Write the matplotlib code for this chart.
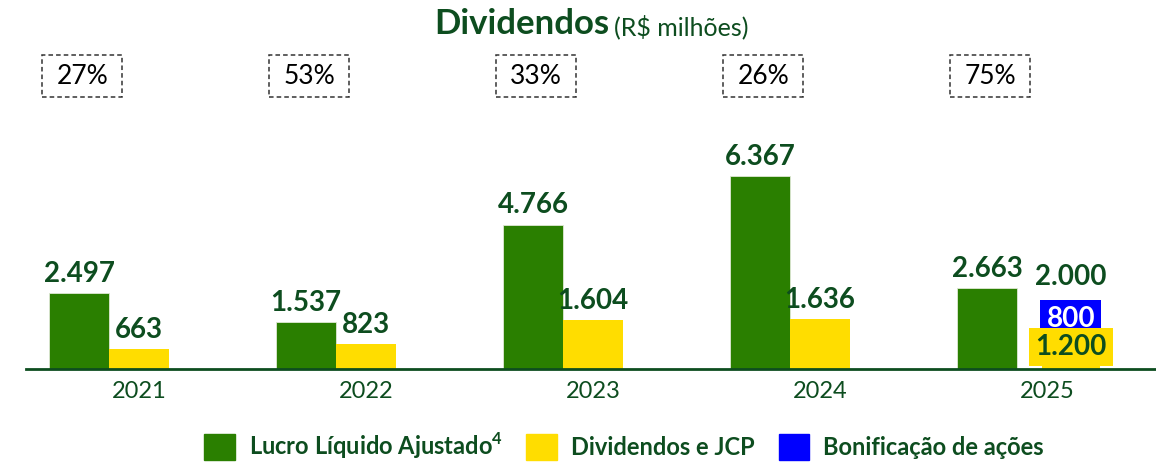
import matplotlib
matplotlib.use('Agg')
import matplotlib.pyplot as plt
import matplotlib.transforms as mtransforms
from matplotlib.patches import Patch, Rectangle
import numpy as np

plt.rcParams['font.family'] = ['Lato', 'DejaVu Sans']
plt.rcParams['mathtext.fontset'] = 'custom'
plt.rcParams['mathtext.rm'] = 'Lato'

# dados (R$ milhões)
anos = ['2021', '2022', '2023', '2024', '2025']
lucro = [2497, 1537, 4766, 6367, 2663]
dividendos = [663, 823, 1604, 1636, 1200]
bonificacao = [0, 0, 0, 0, 800]
payout = ['27%', '53%', '33%', '26%', '75%']

def fmt(v):
    return '{:,}'.format(v).replace(',', '.')

verde = '#2A7F00'
amarelo = '#FFDD00'
azul = '#0000FF'
escuro = '#0D4D1F'

fig = plt.figure(figsize=(11.56, 4.62), dpi=100)
ax = fig.add_axes([26/1156, 93/462, 1130/1156, 269/462])

x = np.arange(len(anos))
w = 0.264
bon = np.array(bonificacao)
off_div = np.where(bon > 0, 0.105, 0.0)

ax.bar(x - w, lucro, w, color=verde, edgecolor='#dfe8d5', linewidth=0.6)
ax.bar(x + off_div, dividendos, w * np.where(bon > 0, 0.97, 1.0), color=amarelo)
ax.bar(x + off_div, bon, w * 0.97, bottom=dividendos, color=azul)

lab = dict(fontsize=20, fontweight='bold', color=escuro, ha='center', va='baseline')
for i in range(len(anos)):
    ax.annotate(fmt(lucro[i]), (x[i] - w, lucro[i]), xytext=(0, 8),
                textcoords='offset points', **lab)
    if bon[i] > 0:
        total = dividendos[i] + bon[i]
        ax.annotate(fmt(total), (x[i] + off_div[i], total), xytext=(0, 17),
                    textcoords='offset points', **lab)
        ax.annotate(fmt(bon[i]), (x[i] + off_div[i], dividendos[i] + bon[i] / 2),
                    xytext=(0, 1), textcoords='offset points',
                    fontsize=20, fontweight='bold', color='white',
                    ha='center', va='center',
                    bbox=dict(boxstyle='square,pad=0.22', fc=azul, ec='none'))
        ax.annotate(fmt(dividendos[i]), (x[i] + off_div[i], dividendos[i] / 2),
                    xytext=(0, 3), textcoords='offset points',
                    fontsize=20, fontweight='bold', color=escuro,
                    ha='center', va='center',
                    bbox=dict(boxstyle='square,pad=0.22', fc=amarelo, ec='none'))
    else:
        ax.annotate(fmt(dividendos[i]), (x[i], dividendos[i]), xytext=(0, 8),
                    textcoords='offset points', **lab)

# caixas de payout (tracejadas)
trans = mtransforms.blended_transform_factory(ax.transData, fig.transFigure)
bw, bh = 80 / 227, 42 / 462
yc = 1 - 76 / 462
for i, p in enumerate(payout):
    cx = x[i] - 0.25
    ax.add_patch(Rectangle((cx - bw / 2, yc - bh / 2), bw, bh, transform=trans,
                           fill=False, ec='#333333', ls=(0, (3, 2)), lw=1.1,
                           clip_on=False))
    ax.text(cx, yc, p, transform=trans, fontsize=19, color='black',
            ha='center', va='center')

ax.set_xlim(-0.498, 4.48)
ax.set_ylim(0, 269 * 33.0)
for s in ['top', 'left', 'right']:
    ax.spines[s].set_visible(False)
ax.spines['bottom'].set_color(escuro)
ax.spines['bottom'].set_linewidth(2)
ax.set_yticks([])
ax.set_xticks(x)
ax.set_xticklabels(anos, fontsize=17, color=escuro)
ax.tick_params(axis='x', length=0, pad=9)

# título
fig.text(609/1156, 1 - 24/462, 'Dividendos', fontsize=25, fontweight='bold',
         color=escuro, ha='right', va='center')
fig.text(614/1156, 1 - 27/462, '(R$ milhões)', fontsize=18, color=escuro,
         ha='left', va='center')

handles = [Patch(color=verde), Patch(color=amarelo), Patch(color=azul)]
labels = ['Lucro Líquido Ajustado$^{\\mathregular{4}}$', 'Dividendos e JCP',
          'Bonificação de ações']
leg = fig.legend(handles, labels, loc='center', bbox_to_anchor=(624/1156, 16/462),
                 ncol=3, frameon=False, handlelength=1.3, handleheight=1.3,
                 handletextpad=0.6, columnspacing=1.0,
                 prop={'size': 17, 'weight': 'bold'})
for t in leg.get_texts():
    t.set_color(escuro)

fig.savefig('out.png', dpi=100)
